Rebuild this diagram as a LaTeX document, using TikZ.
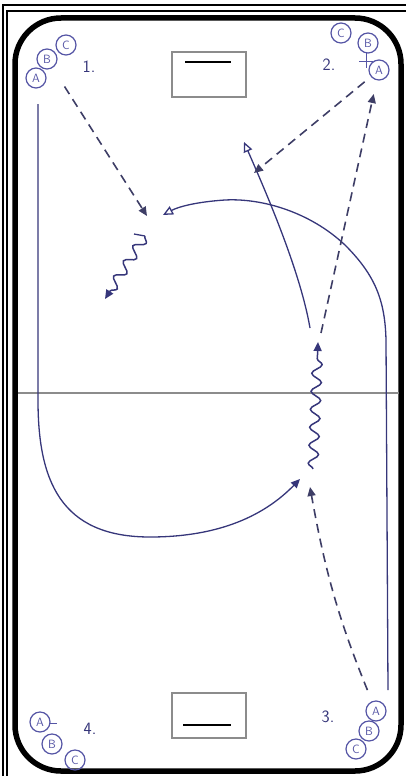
\documentclass[tikz,border=0pt]{standalone}
\usetikzlibrary{arrows.meta,decorations.pathmorphing,calc}
\definecolor{ink}{HTML}{36367A}
\definecolor{dink}{HTML}{3E3E66}
\definecolor{pink}{HTML}{5555A5}
\definecolor{rgray}{HTML}{8C8C8C}
\tikzset{
  rink/.style={line width=5.5pt,black,rounded corners=46pt},
  frame/.style={line width=1.1pt,black},
  goalbox/.style={draw=rgray,line width=2.6pt},
  goalline/.style={line width=1.4pt,black},
  pl/.style={circle,draw=pink,line width=1.2pt,text=pink,inner sep=0pt,minimum size=20pt,font=\sffamily\large},
  lbl/.style={text=ink,font=\sffamily\LARGE},
  skate/.style={draw=ink,line width=1.3pt},
  pass/.style={draw=dink,line width=1.6pt,dash pattern=on 9pt off 6pt},
  puck/.style={draw=ink,line width=1.5pt,decorate,decoration={snake,amplitude=5pt,segment length=18pt,post length=9pt}},
  tri/.style={-{Triangle[length=9pt,width=8pt]}},
  otri/.style={-{Triangle[open,length=10pt,width=9pt,line width=1.3pt]}},
}
\begin{document}
\begin{tikzpicture}[x=1pt,y=-1pt]
\useasboundingbox (0,0) rectangle (406,776);
\clip (0,0) rectangle (406,776);
% frames
\draw[frame] (3,5) rectangle (420,790);
\draw[frame] (7,11) rectangle (420,790);
% rink
\draw[rink] (15,18) rectangle (401,771);
\draw[rgray,line width=2.4pt] (18,393) -- (399,393);
% goals
\draw[goalbox] (172,52) rectangle (246,97);
\draw[goalline] (185,62) -- (231,62);
\draw[goalbox] (172,693) rectangle (246,738);
\draw[goalline] (183,725) -- (231,725);
% players
\node[pl] (A1) at (36,78) {A};
\node[pl] (B1) at (47,59) {B};
\node[pl] (C1) at (66,45) {C};
\node[lbl] (n1) at (89,67) {1.};
\node[pl] (C2) at (341,33) {C};
\node[pl] (B2) at (368,43) {B};
\node[pl] (A2) at (379,70) {A};
\node[lbl] (n2) at (329,65) {2.};
\draw[pink,line width=1pt] (359,62) -- (373,62) (366,53) -- (366,68);
\node[pl] (A3) at (376,711) {A};
\node[pl] (B3) at (369,731) {B};
\node[pl] (C3) at (356,749) {C};
\node[lbl] (n3) at (328,717) {3.};
\node[pl] (A4) at (40,722) {A};
\node[pl] (B4) at (52,744) {B};
\node[pl] (C4) at (75,760) {C};
\node[lbl] (n4) at (90,729) {4.};
\draw[pink,line width=1pt] (50,723) -- (57,723);
% free ends
\coordinate (e1) at (147,216);
\coordinate (w1s) at (145,236);
\coordinate (w1e) at (105,299);
\coordinate (s3) at (388,690);
\coordinate (e3) at (163,215);
\coordinate (s4) at (310,328);
\coordinate (e4) at (244,142);
\coordinate (s5) at (321,333);
\coordinate (e6) at (254,173);
\coordinate (w2s) at (313,469);
\coordinate (w2e) at (318,342);
\coordinate (e8) at (310,487);
\coordinate (s9) at (38,104);
\coordinate (e9) at (300,479);
% connectors
\draw[pass,tri,shorten <=22pt] (B1) -- (e1);
\draw[ink,line width=1.3pt] (134,234) -- (w1s);
\draw[puck,tri] (w1s) -- (w1e);
\draw[skate,otri] (s3) -- (386,340) .. controls (385,300) and (375,275) .. (345,245)
  .. controls (310,212) and (262,198) .. (225,200) .. controls (195,202) and (178,207) .. (e3);
\draw[skate,otri] (s4) .. controls (300,270) and (265,190) .. (e4);
\draw[pass,tri,shorten >=14pt] (s5) -- (A2);
\draw[pass,tri,shorten <=8pt] (A2) -- (e6);
\draw[puck,tri] (w2s) -- (w2e);
\draw[pass,tri,shorten <=12pt] (A3) to[bend left=6] (e8);
\draw[skate,tri] (s9) -- (38,400) .. controls (38,480) and (60,537) .. (150,537)
  .. controls (220,537) and (265,515) .. (e9);
\end{tikzpicture}
\end{document}
